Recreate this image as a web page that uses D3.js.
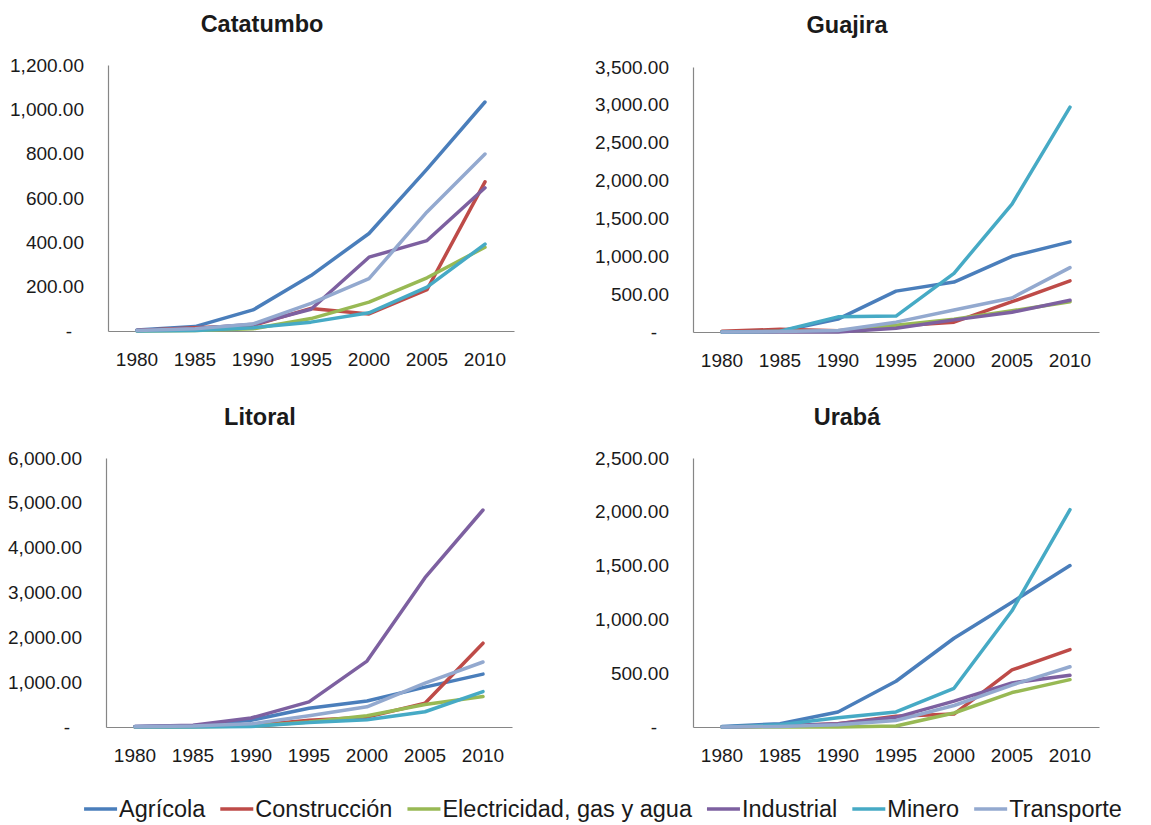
<!DOCTYPE html>
<html>
<head>
<meta charset="utf-8">
<script src="https://cdn.jsdelivr.net/npm/d3@7"></script>
<style>
  html, body { margin: 0; padding: 0; background: #fff; }
  svg { display: block; }
  text { font-family: "Liberation Sans", Arial, sans-serif; fill: #1a1a1a; }
</style>
</head>
<body>
<svg id="chart" width="1151" height="825"></svg>
<script>
// ---------- DATA ----------
const years = [1980, 1985, 1990, 1995, 2000, 2005, 2010];
const sectors = ["Agrícola", "Construcción", "Electricidad, gas y agua", "Industrial", "Minero", "Transporte"];
const sectorColors = ["#4A7EBB", "#BE4B48", "#98B954", "#7D60A0", "#46AAC5", "#93A9CF"];

// values per sector, in the order of `sectors`
const catatumbo = [
  [5, 20, 95, 250, 440, 730, 1033],
  [2, 15, 25, 102, 77, 187, 673],
  [0, 2, 10, 56, 130, 240, 378],
  [2, 10, 30, 98, 333, 408, 646],
  [0, 2, 15, 40, 82, 198, 392],
  [2, 10, 32, 125, 236, 537, 798]
];
const guajira = [
  [0, 10, 170, 540, 660, 1000, 1190],
  [10, 35, 15, 80, 130, 400, 675],
  [0, 5, 5, 90, 170, 280, 400],
  [0, 0, 0, 50, 160, 260, 420],
  [0, 10, 200, 210, 775, 1690, 2970],
  [0, 5, 20, 130, 290, 450, 850]
];
const litoral = [
  [10, 30, 150, 420, 580, 890, 1180],
  [0, 10, 30, 150, 220, 530, 1870],
  [0, 5, 20, 110, 250, 500, 680],
  [10, 40, 200, 560, 1470, 3330, 4840],
  [0, 0, 10, 100, 160, 340, 790],
  [5, 20, 70, 250, 450, 980, 1450]
];
const uraba = [
  [5, 30, 140, 425, 825, 1160, 1500],
  [0, 10, 30, 100, 120, 530, 720],
  [0, 0, 0, 10, 130, 320, 440],
  [0, 10, 30, 90, 240, 410, 480],
  [0, 20, 85, 140, 360, 1080, 2020],
  [0, 5, 20, 60, 200, 390, 560]
];

const regionNames = ["Catatumbo", "Guajira", "Litoral", "Urabá"];
const regionData = [catatumbo, guajira, litoral, uraba];
const yMax = [1200, 3500, 6000, 2500];
const yStep = [200, 500, 1000, 500];

// ---------- LAYOUT ----------
const panels = [
  { left: 108, right: 514, top: 65, bottom: 331, titleY: 24 },
  { left: 693, right: 1099, top: 67, bottom: 332, titleY: 25 },
  { left: 106, right: 512, top: 458, bottom: 727, titleY: 417 },
  { left: 693, right: 1099, top: 458, bottom: 727, titleY: 417 }
];

const svg = d3.select("#chart");
const axisColor = "#868686";
const fmt = d3.format(",.2f");
const tickFont = "19px";

panels.forEach((p, i) => {
  const g = svg.append("g");
  const x = d3.scaleBand().domain(years).range([p.left, p.right]);
  const y = d3.scaleLinear().domain([0, yMax[i]]).range([p.bottom, p.top]);

  // title
  g.append("text")
    .attr("x", (p.left - 98 + p.right) / 2)
    .attr("y", p.titleY)
    .attr("text-anchor", "middle")
    .attr("dominant-baseline", "central")
    .style("font-weight", "bold")
    .style("font-size", "23.5px")
    .text(regionNames[i]);

  // y axis
  const ticks = d3.range(0, yMax[i] + 1, yStep[i]);
  const yAxis = d3.axisLeft(y).tickValues(ticks).tickSize(0).tickPadding(24)
    .tickFormat(v => v === 0 ? "-" : fmt(v));
  const ya = g.append("g").attr("transform", `translate(${p.left},0)`).call(yAxis);
  ya.select(".domain").attr("stroke", axisColor).attr("stroke-width", 1.2);
  ya.selectAll("text").style("font-size", tickFont).style("font-family", '"Liberation Sans", Arial, sans-serif').attr("fill", "#1a1a1a");
  ya.selectAll(".tick text").filter(d => d === 0).attr("dx", "-12px");

  // x axis
  const xAxis = d3.axisBottom(x).tickSize(0).tickPadding(22);
  const xa = g.append("g").attr("transform", `translate(0,${p.bottom})`).call(xAxis);
  xa.select(".domain").attr("stroke", axisColor).attr("stroke-width", 1.2);
  xa.selectAll("text").style("font-size", tickFont).style("font-family", '"Liberation Sans", Arial, sans-serif').attr("fill", "#1a1a1a");

  // lines
  const line = d3.line()
    .x((d, j) => x(years[j]) + x.bandwidth() / 2)
    .y(d => y(d));
  regionData[i].forEach((series, s) => {
    g.append("path")
      .datum(series)
      .attr("d", line)
      .attr("fill", "none")
      .attr("stroke", sectorColors[s])
      .attr("stroke-width", 3.5)
      .attr("stroke-linejoin", "round")
      .attr("stroke-linecap", "round");
  });
});

// ---------- LEGEND ----------
const legend = svg.append("g");
const lineLen = 33, textGap = 2, itemGap = 15, legendY = 809;
const items = [];
sectors.forEach((name, s) => {
  const it = legend.append("g");
  it.append("line")
    .attr("x1", 0).attr("x2", lineLen)
    .attr("y1", 0).attr("y2", 0)
    .attr("stroke", sectorColors[s]).attr("stroke-width", 3.5);
  const t = it.append("text")
    .attr("x", lineLen + textGap)
    .attr("y", 0)
    .attr("dominant-baseline", "central")
    .style("font-size", "23.5px")
    .text(name);
  const w = lineLen + textGap + t.node().getComputedTextLength();
  items.push({ it, w });
});
const total = d3.sum(items, d => d.w) + itemGap * (items.length - 1);
let startX = 603 - total / 2;
items.forEach(d => {
  d.it.attr("transform", `translate(${startX},${legendY})`);
  startX += d.w + itemGap;
});
</script>
</body>
</html>
